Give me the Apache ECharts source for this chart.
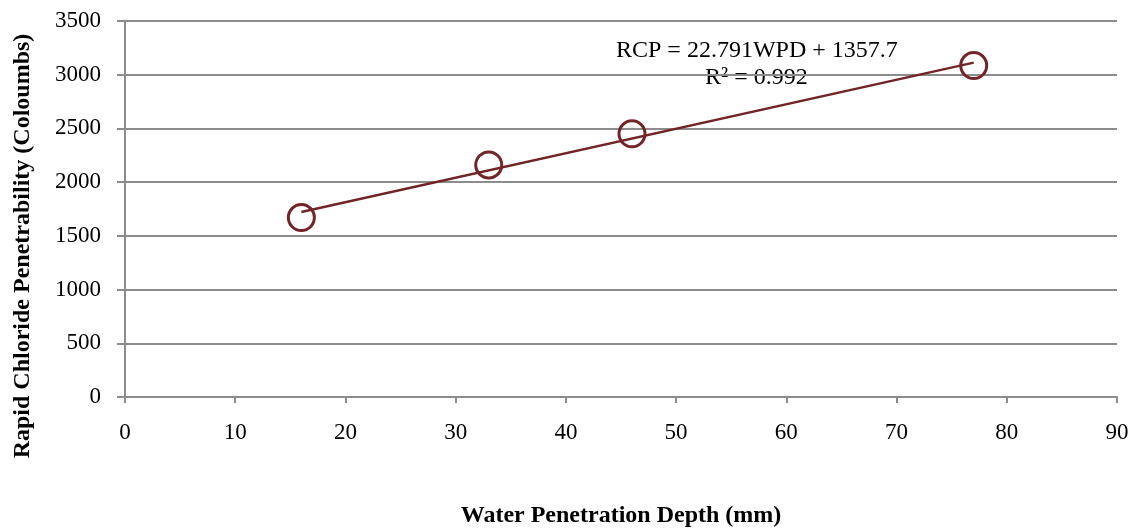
<!DOCTYPE html>
<html>
<head>
<meta charset="utf-8">
<script src="https://cdn.jsdelivr.net/npm/echarts@6/dist/echarts.min.js"></script>
<style>
  html, body { margin: 0; padding: 0; background: #fff; }
  #chart { width: 1135px; height: 529px; }
</style>
</head>
<body>
<div id="chart"></div>
<script>
// measured points
var wpd = [16, 33, 46, 77]
var rcp = [1670, 2160, 2450, 3085]

// linear fit as printed on the chart
var slope = 22.791
var intercept = 1357.7
var trendX = [16, 77]
var eqLines = ['RCP = 22.791WPD + 1357.7', 'R² = 0.992']
var yTitle = 'Rapid Chloride Penetrability (Coloumbs)'

var serif = '"Liberation Serif", "Times New Roman", serif'
var dark = '#722526'
var gray = '#8c8c8c'

var points = wpd.map(function (x, i) { return [x, rcp[i]] })
var trend = trendX.map(function (x) { return [x, slope * x + intercept] })

var chart = echarts.init(document.getElementById('chart'))
chart.setOption({
    animation: false,
    grid: { left: 125, right: 18, top: 21, bottom: 132, outerBoundsMode: 'none', containLabel: false },
    xAxis: {
        type: 'value',
        min: 0, max: 90, interval: 10,
        name: 'Water Penetration Depth (mm)',
        nameLocation: 'middle',
        nameGap: 107,
        nameTextStyle: { fontFamily: serif, fontSize: 24, fontWeight: 'bold', color: '#000' },
        axisLine: { lineStyle: { color: gray, width: 2 } },
        axisTick: { show: true, length: 6, lineStyle: { color: gray, width: 2 } },
        axisLabel: { fontFamily: serif, fontSize: 23, color: '#000', margin: 24 },
        splitLine: { show: false }
    },
    yAxis: {
        type: 'value',
        min: 0, max: 3500, interval: 500,
        axisLine: { show: true, lineStyle: { color: gray, width: 2 } },
        axisTick: { show: true, length: 8, lineStyle: { color: gray, width: 2 } },
        axisLabel: {
            fontFamily: serif, fontSize: 23, color: '#000', margin: 24,
            formatter: function (v) { return String(v) }
        },
        splitLine: { lineStyle: { color: gray, width: 2 } }
    },
    series: [
        {
            type: 'line',
            data: trend,
            symbol: 'none',
            lineStyle: { color: dark, width: 2.5 },
            z: 3
        },
        {
            type: 'scatter',
            data: points,
            symbol: 'circle',
            symbolSize: 26,
            itemStyle: { color: 'rgba(0,0,0,0)', borderColor: dark, borderWidth: 3, opacity: 1 },
            z: 4
        }
    ],
    graphic: [
        {
            type: 'text',
            x: 616, y: 51,
            style: { text: eqLines[0], fontFamily: serif, fontSize: 24, fill: '#000', verticalAlign: 'middle' }
        },
        {
            type: 'text',
            x: 705, y: 78,
            style: { text: eqLines[1], fontFamily: serif, fontSize: 24, fill: '#000', verticalAlign: 'middle' }
        },
        {
            type: 'text',
            x: 23, y: 246,
            rotation: Math.PI / 2,
            style: {
                text: yTitle, fontFamily: serif, fontSize: 24, fontWeight: 'bold', fill: '#000',
                align: 'center', verticalAlign: 'middle'
            }
        }
    ]
})
</script>
</body>
</html>
